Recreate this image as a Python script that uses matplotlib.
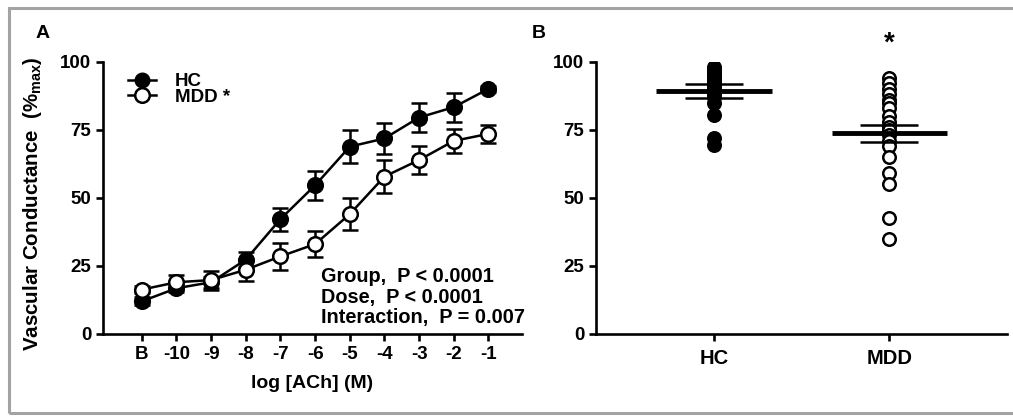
import numpy as np
import matplotlib
matplotlib.use("Agg")
from matplotlib import pyplot as plt
from matplotlib.lines import Line2D
from matplotlib.patches import Rectangle

plt.rcParams['font.family'] = 'Liberation Sans'
plt.rcParams['font.weight'] = 'bold'
plt.rcParams['mathtext.fontset'] = 'custom'
plt.rcParams['mathtext.rm'] = 'Liberation Sans:bold'
plt.rcParams['mathtext.bf'] = 'Liberation Sans:bold'

# Panel A: dose response
dose_labels = ['B', '-10', '-9', '-8', '-7', '-6', '-5', '-4', '-3', '-2', '-1']
hc_mean = [12, 16.8, 19, 27.3, 42.2, 54.6, 68.8, 71.8, 79.5, 83.3, 90]
hc_err = [1.5, 1.5, 2.0, 2.8, 4.2, 5.4, 6.0, 5.7, 5.5, 5.3, 1.2]
mdd_mean = [16.3, 19, 19.8, 23.6, 28.5, 33, 44, 57.8, 63.9, 70.9, 73.5]
mdd_err = [1.2, 2.8, 3.5, 4.0, 4.9, 4.8, 5.8, 6.0, 5.0, 4.3, 3.2]

# Panel B: individual values
groups = ['HC', 'MDD']
hc_points = [98, 97.5, 97, 96, 95.5, 95, 94, 93, 92, 91, 90, 89, 88, 87, 85, 80.5, 72, 69.5]
mdd_points = [94, 92, 90, 88, 86, 85, 83, 80, 78, 76, 75, 73, 71, 69, 65, 59, 55, 42.5, 35]
group_mean = [89.3, 73.7]
group_sem = [2.5, 3.1]

fig = plt.figure(figsize=(10.13, 4.18), dpi=100)

# grey frame round the figure
fig.patches.append(Rectangle((9 / 1013, 5 / 418), 1.2, 1 - 13 / 418, transform=fig.transFigure,
                             fill=False, edgecolor='#a3a3a3', linewidth=2.2, clip_on=False))

spine_lw = 1.9
fs = 13.5

def style_axes(ax):
    for s in ['top', 'right']:
        ax.spines[s].set_visible(False)
    for s in ['left', 'bottom']:
        ax.spines[s].set_linewidth(spine_lw)
    ax.tick_params(width=spine_lw, length=5, labelsize=fs, direction='out')
    ax.set_ylim(0, 100)
    ax.set_yticks([0, 25, 50, 75, 100])

# ---- Panel A
axA = fig.add_axes([0.1017, 0.201, 0.4136, 0.6514])
style_axes(axA)
x = np.arange(len(dose_labels))
axA.errorbar(x, hc_mean, yerr=hc_err, color='black', lw=1.8, capsize=6, capthick=1.8,
             marker='o', ms=10.5, mfc='black', mec='black', mew=1.8, zorder=3)
axA.errorbar(x, mdd_mean, yerr=mdd_err, color='black', lw=1.8, capsize=6, capthick=1.8,
             marker='o', ms=10.5, mfc='white', mec='black', mew=1.8, zorder=4)
axA.set_xlim(-1.12, 10.97)
axA.set_xticks(x)
axA.set_xticklabels(dose_labels)
axA.set_xlabel('log [ACh] (M)', fontsize=14, fontweight='bold', labelpad=9)
axA.set_ylabel(r'Vascular Conductance  (%$_{\rm max}$)', fontsize=14.8, fontweight='bold')
axA.yaxis.set_label_coords(-0.14, 0.48)

handles = [Line2D([], [], color='black', lw=1.8, marker='o', ms=10.5, mfc='black', mec='black'),
           Line2D([], [], color='black', lw=1.8, marker='o', ms=10.5, mfc='white', mec='black', mew=1.8)]
axA.legend(handles, ['HC', 'MDD *'], loc='upper left', bbox_to_anchor=(0.02, 1.02),
           frameon=False, fontsize=fs, handlelength=1.5, handletextpad=1.0, labelspacing=-0.1)

axA.text(5.17, 24.5, 'Group,  P < 0.0001\nDose,  P < 0.0001\nInteraction,  P = 0.007',
         fontsize=14.3, fontweight='bold', va='top', ha='left', linespacing=1.1)

fig.text(0.035, 0.91, 'A', fontsize=14, fontweight='bold')

# ---- Panel B
axB = fig.add_axes([0.5883, 0.201, 0.4057, 0.6514])
style_axes(axB)
for i, pts in enumerate([hc_points, mdd_points]):
    fill = 'black' if i == 0 else 'white'
    axB.plot(np.full(len(pts), i), pts, 'o', ms=9, mfc=fill, mec='black', mew=1.8,
             linestyle='none', zorder=3)
    axB.plot([i - 0.33, i + 0.33], [group_mean[i]] * 2, color='black', lw=3.5, zorder=4,
             solid_capstyle='butt')
    for s in [-1, 1]:
        axB.plot([i - 0.165, i + 0.165], [group_mean[i] + s * group_sem[i]] * 2, color='black',
                 lw=1.8, zorder=4, solid_capstyle='butt')
axB.text(1, 102, '*', fontsize=20, fontweight='bold', ha='center', va='bottom')
axB.set_xlim(-0.673, 1.67)
axB.set_xticks([0, 1])
axB.set_xticklabels(groups, fontsize=14.5)
axB.tick_params(axis='x', pad=6)

fig.text(0.525, 0.91, 'B', fontsize=14, fontweight='bold')

fig.savefig('out.png', dpi=100)
